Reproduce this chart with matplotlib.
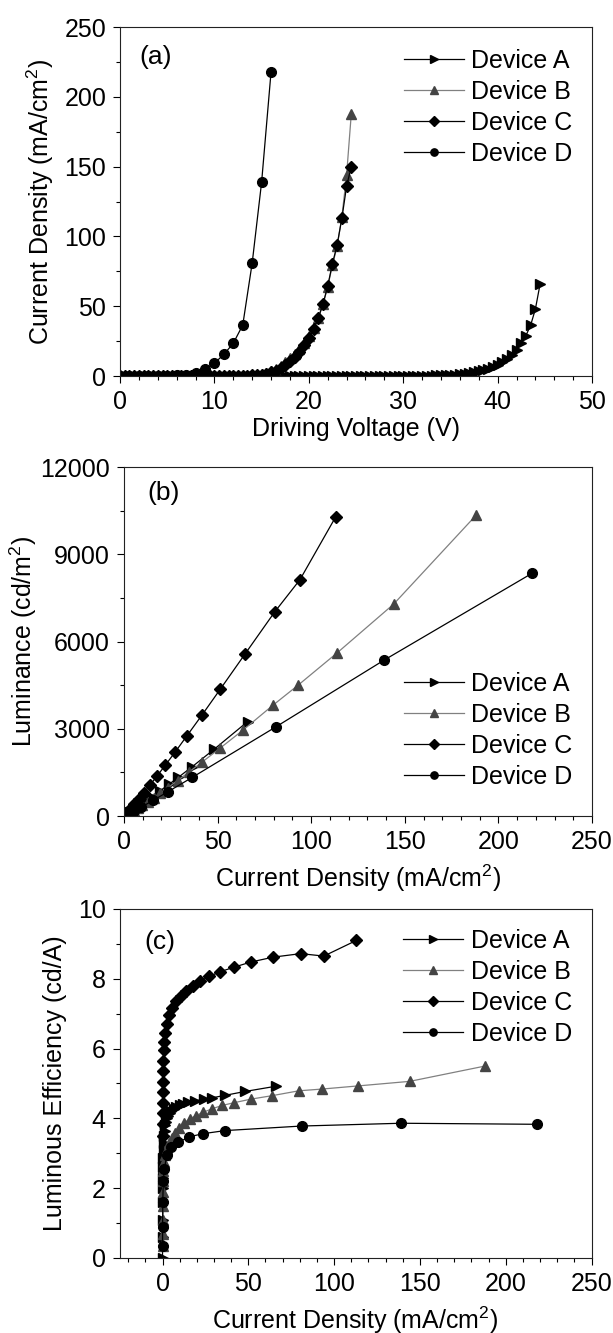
import matplotlib
matplotlib.use('Agg')
from matplotlib import pyplot as plt
from matplotlib.ticker import MultipleLocator

plt.rcParams['font.family'] = ['Liberation Sans', 'DejaVu Sans']
plt.rcParams['mathtext.fontset'] = 'custom'
plt.rcParams['mathtext.rm'] = 'Liberation Sans'

# ---- panel (a): J-V ----
V_A = [0.0, 0.5, 1.0, 1.5, 2.0, 2.5, 3.0, 3.5, 4.0, 4.5, 5.0, 5.5, 6.0, 6.5, 7.0, 7.5,
       8.0, 8.5, 9.0, 9.5, 10.0, 10.5, 11.0, 11.5, 12.0, 12.5, 13.0, 13.5, 14.0, 14.5,
       15.0, 15.5, 16.0, 16.5, 17.0, 17.5, 18.0, 18.5, 19.0, 19.5, 20.0, 20.5, 21.0, 21.5,
       22.0, 22.5, 23.0, 23.5, 24.0, 24.5, 25.0, 25.5, 26.0, 26.5, 27.0, 27.5, 28.0, 28.5,
       29.0, 29.5, 30.0, 30.5, 31.0, 31.5, 32.0, 32.5, 33.0, 33.5, 34.0, 34.5, 35.0, 35.5,
       36.0, 36.5, 37.0, 37.5, 38.0, 38.5, 39.0, 39.5, 40.0, 40.5, 41.0, 41.5, 42.0, 42.5,
       43.0, 43.5, 44.0, 44.5]
J_A = [0, 0, 0, 0, 0, 0, 0, 0, 0, 0, 0, 0, 0, 0, 0, 0,
       0, 0, 0, 0, 0, 0, 0, 0, 0, 0, 0, 0, 0, 0,
       0, 0, 0, 0, 0, 0, 0, 0, 0, 0, 0, 0, 0, 0,
       0, 0, 0, 0, 0, 0, 0, 0, 0, 0, 0, 0, 0, 0,
       0, 0, 0, 0, 0.05, 0.1, 0.2, 0.25, 0.3, 0.4, 0.5, 0.6, 0.8, 1.0,
       1.3, 1.7, 2.1, 2.7, 3.4, 4.2, 5.2, 6.5, 8.0, 10.0, 12.0, 15.0, 19.0, 24.0,
       29.0, 36.5, 48.0, 66.0]

V_BC = [0.0, 0.5, 1.0, 1.5, 2.0, 2.5, 3.0, 3.5, 4.0, 4.5, 5.0, 5.5, 6.0, 6.5, 7.0, 7.5,
        8.0, 8.5, 9.0, 9.5, 10.0, 10.5, 11.0, 11.5, 12.0, 12.5, 13.0, 13.5, 14.0, 14.5,
        15.0, 15.5, 16.0, 16.5, 17.0, 17.5, 18.0, 18.5, 19.0, 19.5, 20.0, 20.5, 21.0, 21.5,
        22.0, 22.5, 23.0, 23.5, 24.0, 24.5]
J_B = [0, 0, 0, 0, 0, 0, 0, 0, 0, 0, 0, 0, 0, 0, 0, 0,
       0, 0, 0, 0, 0, 0, 0.012, 0.025, 0.05, 0.1, 0.18, 0.32, 0.55, 0.9,
       1.5, 2.4, 3.7, 5.3, 7.3, 9.8, 12.6, 15.8, 19.4, 23.5, 28.6, 34.7, 41.8, 51.4,
       63.8, 79.5, 93.0, 114.0, 144.0, 188.0]
J_C = [0, 0, 0, 0, 0, 0, 0, 0, 0, 0, 0, 0, 0, 0, 0, 0,
       0, 0, 0, 0, 0, 0.01, 0.02, 0.035, 0.06, 0.1, 0.17, 0.28, 0.45, 0.7,
       1.1, 1.7, 2.6, 3.9, 5.6, 7.8, 10.5, 13.8, 17.5, 22.0, 27.3, 33.5, 41.5, 51.5,
       64.5, 80.5, 94.0, 113.0, 136.0, 150.0]

V_D = [0, 1, 2, 3, 4, 5, 6, 7, 8, 9, 10, 11, 12, 13, 14, 15, 16]
J_D = [0, 0, 0, 0.015, 0.05, 0.15, 0.45, 1.1, 2.5, 5.2, 9.2, 15.5, 23.5, 36.5, 81.0, 139.0, 218.0]

# ---- panels (b) and (c): L-J and LE-J ----
JL_A = [66, 48, 36.5, 29, 24, 19, 15, 12, 10, 8, 6.5, 5.2, 4.2, 3.4, 2.7, 2.1, 1.7, 1.3, 1.0, 0.8,
        0.6, 0.5, 0.4, 0.3, 0.25, 0.2, 0.1, 0.05, 0]
L_A = [3247, 2290, 1701, 1331, 1092, 855, 669, 530, 438, 346, 278, 219, 174, 139, 108, 82, 65, 47, 35, 26,
       19, 14, 10, 7, 5, 3.2, 1.1, 0.3, 0]
LE_A = [4.92, 4.77, 4.66, 4.59, 4.55, 4.5, 4.46, 4.42, 4.38, 4.33, 4.28, 4.22, 4.15, 4.08, 4.0, 3.9,
        3.8, 3.65, 3.5, 3.3, 3.1, 2.85, 2.6, 2.3, 2.0, 1.6, 1.1, 0.6, 0]

JL_B = [188, 144, 114, 93, 79.5, 63.8, 51.4, 41.8, 34.7, 28.6, 23.5, 19.4, 15.8, 12.6, 9.8, 7.3, 5.3,
        3.7, 2.4, 1.5, 0.9, 0.55, 0.32, 0.18, 0.1, 0.05, 0.025, 0.012]
L_B = [10340, 7286, 5620, 4501, 3808, 2967, 2339, 1860, 1516, 1221, 980, 792, 629, 488, 366, 261, 182,
       121, 75, 44, 25, 14, 7, 3.4, 1.5, 0.55, 0.18, 0.04]
LE_B = [5.5, 5.06, 4.93, 4.84, 4.79, 4.65, 4.55, 4.45, 4.37, 4.27, 4.17, 4.08, 3.98, 3.87, 3.73, 3.58,
        3.43, 3.28, 3.12, 2.95, 2.75, 2.5, 2.2, 1.9, 1.5, 1.1, 0.7, 0.35]

JL_C = [113, 94, 80.5, 64.5, 51.5, 41.5, 33.5, 27.3, 22, 17.5, 13.8, 10.5, 7.8, 5.6, 3.9, 2.6, 1.7,
        1.1, 0.7, 0.45, 0.28, 0.17, 0.1, 0.06, 0.035, 0.02, 0.01]
L_C = [10280, 8130, 7020, 5560, 4370, 3460, 2750, 2200, 1745, 1365, 1057, 790, 574, 402, 271, 174, 110,
       68, 42, 25, 15, 8.6, 4.8, 2.7, 1.5, 0.8, 0.35]
LE_C = [9.1, 8.65, 8.72, 8.62, 8.48, 8.33, 8.2, 8.07, 7.93, 7.8, 7.66, 7.52, 7.36, 7.17, 6.95, 6.7,
        6.45, 6.2, 5.95, 5.65, 5.35, 5.05, 4.75, 4.45, 4.15, 3.85, 3.5]

JL_D = [218, 139, 81, 36.5, 23.5, 15.5, 9.2, 5.2, 2.5, 1.1, 0.45, 0.15, 0.05, 0.015]
L_D = [8349, 5365, 3062, 1332, 837, 538, 305, 165, 74, 28, 10, 2.4, 0.45, 0.05]
LE_D = [3.83, 3.86, 3.78, 3.65, 3.56, 3.47, 3.31, 3.17, 2.95, 2.55, 2.2, 1.6, 0.9, 0.35]

labels = ['Device A', 'Device B', 'Device C', 'Device D']

FS = 18
sty_A = dict(color='black', marker='>', ms=7, lw=0.9)
sty_B = dict(color='#808080', marker='^', ms=7, lw=0.9, mfc='#444444', mec='#444444')
sty_C = dict(color='black', marker='D', ms=6.2, lw=0.9)
sty_D = dict(color='black', marker='o', ms=7, lw=0.9)

fig = plt.figure(figsize=(6.13, 13.33), dpi=100)
ax1 = fig.add_axes([0.1958, 0.7179, 0.770, 0.2618])
ax2 = fig.add_axes([0.2023, 0.3878, 0.7635, 0.2618])
ax3 = fig.add_axes([0.1951, 0.0563, 0.770, 0.2618])

ax1.plot(V_A, J_A, label=labels[0], **sty_A)
ax1.plot(V_BC, J_B, label=labels[1], **sty_B)
ax1.plot(V_BC, J_C, label=labels[2], **sty_C)
ax1.plot(V_D, J_D, label=labels[3], **sty_D)

ax2.plot(JL_A, L_A, label=labels[0], **sty_A)
ax2.plot(JL_B, L_B, label=labels[1], **sty_B)
ax2.plot(JL_C, L_C, label=labels[2], **sty_C)
ax2.plot(JL_D, L_D, label=labels[3], **sty_D)

ax3.plot(JL_A, LE_A, label=labels[0], **sty_A)
ax3.plot(JL_B, LE_B, label=labels[1], **sty_B)
ax3.plot(JL_C, LE_C, label=labels[2], **sty_C)
ax3.plot(JL_D, LE_D, label=labels[3], **sty_D)

ax1.set_xlim(0, 50)
ax1.set_ylim(0, 250)
ax1.xaxis.set_major_locator(MultipleLocator(10))
ax1.xaxis.set_minor_locator(MultipleLocator(2))
ax1.yaxis.set_major_locator(MultipleLocator(50))
ax1.yaxis.set_minor_locator(MultipleLocator(25))
ax1.set_xlabel('Driving Voltage (V)', fontsize=FS, labelpad=2)
ax1.set_ylabel('Current Density (mA/cm$^2$)', fontsize=FS, labelpad=6)

ax2.set_xlim(0, 250)
ax2.set_ylim(0, 12000)
ax2.xaxis.set_major_locator(MultipleLocator(50))
ax2.xaxis.set_minor_locator(MultipleLocator(10))
ax2.yaxis.set_major_locator(MultipleLocator(3000))
ax2.yaxis.set_minor_locator(MultipleLocator(1500))
ax2.set_xlabel('Current Density (mA/cm$^2$)', fontsize=FS, labelpad=6)
ax2.set_ylabel('Luminance (cd/m$^2$)', fontsize=FS, labelpad=1)

ax3.set_xlim(-25, 250)
ax3.set_ylim(0, 10)
ax3.set_xticks([0, 50, 100, 150, 200, 250])
ax3.xaxis.set_minor_locator(MultipleLocator(10))
ax3.yaxis.set_major_locator(MultipleLocator(2))
ax3.yaxis.set_minor_locator(MultipleLocator(1))
ax3.set_xlabel('Current Density (mA/cm$^2$)', fontsize=FS, labelpad=6)
ax3.set_ylabel('Luminous Efficiency (cd/A)', fontsize=FS, labelpad=8)

for ax, tag, tx, ty in [(ax1, '(a)', 0.04, 0.915), (ax2, '(b)', 0.049, 0.925), (ax3, '(c)', 0.053, 0.905)]:
    ax.tick_params(which='both', direction='out', top=False, right=False, labelsize=FS)
    ax.tick_params(which='major', length=5, width=0.8, pad=5)
    ax.tick_params(which='minor', length=3, width=0.8)
    for s in ax.spines.values():
        s.set_linewidth(0.8)
        s.set_color('#222222')
    ax.text(tx, ty, tag, transform=ax.transAxes, fontsize=FS + 1, va='center')

leg_kw = dict(frameon=False, fontsize=FS, handlelength=2.4, handletextpad=0.3,
              labelspacing=0.28, markerscale=0.75, borderaxespad=0.2)
ax1.legend(loc='upper right', bbox_to_anchor=(0.99, 0.98), **leg_kw)
ax2.legend(loc='lower right', bbox_to_anchor=(0.99, 0.035), **leg_kw)
ax3.legend(loc='upper right', bbox_to_anchor=(0.99, 0.985), **leg_kw)

plt.savefig('out.png', dpi=100)
